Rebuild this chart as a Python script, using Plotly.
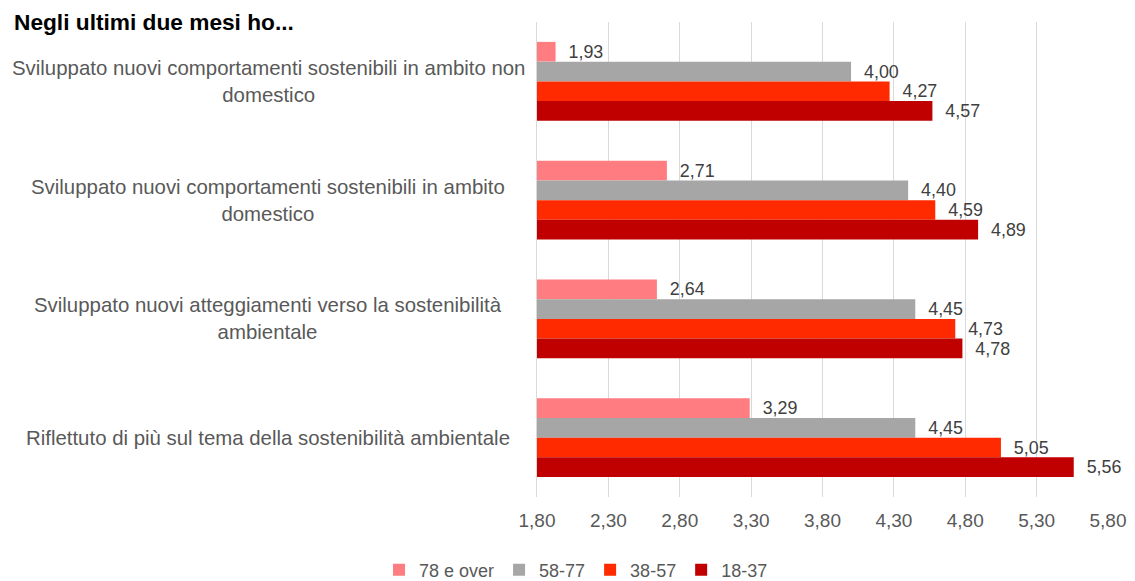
import plotly.graph_objects as go

categories = [
    "Sviluppato nuovi comportamenti sostenibili in ambito non<br>domestico",
    "Sviluppato nuovi comportamenti sostenibili in ambito<br>domestico",
    "Sviluppato nuovi atteggiamenti verso la sostenibilità<br>ambientale",
    "Riflettuto di più sul tema della sostenibilità ambientale",
]
series_names = ["78 e over", "58-77", "38-57", "18-37"]
values_78 = [1.93, 2.71, 2.64, 3.29]
values_58 = [4.00, 4.40, 4.45, 4.45]
values_38 = [4.27, 4.59, 4.73, 5.05]
values_18 = [4.57, 4.89, 4.78, 5.56]
axis_min = 1.8
axis_max = 5.8
tick_vals = [1.8, 2.3, 2.8, 3.3, 3.8, 4.3, 4.8, 5.3, 5.8]
tick_text = ["1,80", "2,30", "2,80", "3,30", "3,80", "4,30", "4,80", "5,30", "5,80"]
colors = ["#FF7C80", "#A6A6A6", "#FF2A00", "#C00000"]

FONT = "Liberation Sans, Arial, sans-serif"

fig = go.Figure()
for name, vals, col in zip(series_names, [values_78, values_58, values_38, values_18], colors):
    fig.add_trace(go.Bar(
        name=name,
        y=categories,
        x=[v - axis_min for v in vals],
        base=axis_min,
        orientation="h",
        marker=dict(color=col, line=dict(width=0)),
        text=["\u00a0\u00a0" + f"{v:.2f}".replace(".", ",") for v in vals],
        textposition="outside",
        cliponaxis=False,
        textfont=dict(size=19, color="#404040", family=FONT),
        hoverinfo="skip",
    ))

W_PLOT = 571.0
H_PLOT = 475.0

fig.update_layout(
    width=1135, height=581,
    paper_bgcolor="white", plot_bgcolor="white",
    barmode="group", bargap=0.335, bargroupgap=0,
    margin=dict(l=529, r=35, t=14, b=92, autoexpand=False),
    font=dict(family=FONT, color="#595959"),
    showlegend=True,
    legend=dict(orientation="h", x=(576 - 537) / W_PLOT, xanchor="center",
                yref="container", y=(581 - (570 - 8)) / 581, yanchor="middle",
                font=dict(size=18, color="#595959"), itemwidth=30,
                traceorder="normal"),
    xaxis=dict(range=[axis_min, axis_max], tickvals=tick_vals, ticktext=tick_text,
               showgrid=True, gridcolor="#D9D9D9", gridwidth=1, zeroline=False,
               tickfont=dict(size=19, color="#595959"), showline=False,
               ticks="outside", ticklen=6, tickcolor="rgba(0,0,0,0)", automargin=False),
    yaxis=dict(autorange="reversed", showticklabels=False, showgrid=False,
               showline=True, linecolor="#D9D9D9", ticks="", automargin=False),
)

fig.add_annotation(text="<b>Negli ultimi due mesi ho...</b>",
                   x=(12 - 537) / W_PLOT, xref="paper", y=1.0, yref="paper",
                   xanchor="left", yanchor="middle", showarrow=False,
                   font=dict(size=22.7, color="#000000", family=FONT))

for cat in categories:
    fig.add_annotation(text=cat, x=(268 - 537) / W_PLOT, xref="paper", y=cat, yref="y",
                       xanchor="center", yanchor="middle", align="center",
                       showarrow=False, font=dict(size=20.4, color="#595959", family=FONT))

fig.write_html("out.html")
